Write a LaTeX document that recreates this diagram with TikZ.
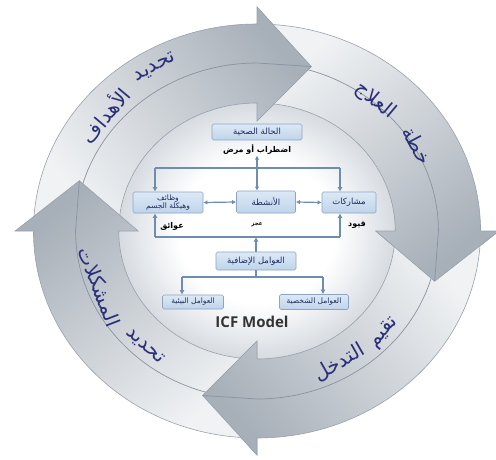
\documentclass[tikz,border=0pt]{standalone}
\usepackage{fontspec}
\usetikzlibrary{arrows.meta}
\TeXXeTstate=1
\newfontfamily\arabicfont[Script=Arabic]{DejaVu Sans}
\newfontfamily\labelfont{Open Sans}

\definecolor{arrowlight}{HTML}{F0F2F4}
\definecolor{arrowdark}{HTML}{A7AFB8}
\definecolor{arrowedge}{HTML}{98A2AD}
\definecolor{ridgecol}{HTML}{8894A0}
\definecolor{ringtext}{HTML}{2A2F78}
\definecolor{boxfillA}{HTML}{DCE9F6}
\definecolor{boxfillB}{HTML}{BFD4EA}
\definecolor{boxedge}{HTML}{8CA5C2}
\definecolor{boxtext}{HTML}{1F2C5C}
\definecolor{connector}{HTML}{6E8DB0}
\definecolor{diskedge}{HTML}{D5DAE0}

\pgfdeclareradialshading{diskshade}{\pgfpoint{0bp}{0bp}}{%
  color(0bp)=(white); color(14bp)=(white); color(25bp)=(diskedge); color(50bp)=(diskedge)}

% Arabic text run, right to left
\newcommand{\ar}[1]{\arabicfont\beginR #1\endR}

% one curved arrow of the cycle: #1 = angle of the head base, #2 = shading angle
\newcommand{\ringarrow}[2]{%
  \path[draw=arrowedge, line width=0.6pt, top color=arrowdark, bottom color=arrowlight, shading angle=#2]
    ({#1+87}:207) arc[start angle={#1+87}, end angle={#1}, radius=207]
    -- ({#1}:224) -- ({#1-17}:172) -- ({#1}:110) -- ({#1}:128)
    arc[start angle={#1}, end angle={#1+87}, radius=128] -- cycle;
  \draw[ridgecol, line width=0.7pt]
    ({#1+87}:168) arc[start angle={#1+87}, end angle={#1}, radius=168] -- ({#1-17}:172);
}
% the head of an arrow, painted again above the next arrow's tail
\newcommand{\ringhead}[2]{%
  \begin{scope}
    \clip (0,0) -- ({#1}:240) arc[start angle={#1}, end angle={#1-22}, radius=240] -- cycle;
    \ringarrow{#1}{#2}
  \end{scope}
}
% point on the ring at angle #1 and radius #2
\newcommand{\rp}[2]{({257+1.08*(#2)*cos(#1)},{228+(#2)*sin(#1)})}

\begin{document}
\begin{tikzpicture}[x=1pt,y=1pt,
  box/.style={draw=boxedge, line width=0.7pt, rounded corners=1.5pt,
    top color=boxfillA, bottom color=boxfillB, text=boxtext,
    font=\arabicfont\fontsize{8.5}{9.5}\selectfont, inner sep=0pt, align=center},
  tag/.style={font=\arabicfont\bfseries\fontsize{8}{9}\selectfont, text=black, inner sep=0.5pt},
  conn/.style={draw=connector, line width=1.5pt},
  tip/.style={-{Latex[length=4.5pt,width=5pt]}},
  tips/.style={{Latex[length=4pt,width=4.5pt]}-{Latex[length=4pt,width=4.5pt]}},
  ringword/.style={font=\arabicfont\fontsize{20}{22}\selectfont, text=ringtext, inner sep=0pt}
]
\useasboundingbox (0,0) rectangle (496,459);
\fill[white] (0,0) rectangle (496,459);

% ring of four arrows
\begin{scope}[shift={(257,228)}, xscale=1.08]
  \fill[shading=diskshade] (0,0) circle[radius=130];
  \ringarrow{90}{-51.5}
  \ringarrow{0}{-141.5}
  \ringarrow{-90}{130.5}
  \ringarrow{180}{40}
  \ringhead{90}{-51.5}
  \ringhead{0}{-141.5}
  \ringhead{-90}{130.5}
\end{scope}

% labels on the arrows
\node[ringword, rotate=29] (g1) at \rp{120}{189} {\ar{تحديد}};
\node[ringword, rotate=50] (g2) at \rp{140.5}{183} {\ar{الأهداف}};
\node[ringword, rotate=-40] (p2) at \rp{50}{170} {\ar{العلاج}};
\node[ringword, rotate=-62] (p1) at \rp{30}{172} {\ar{خطة}};
\node[ringword, rotate=50] (e1) at \rp{-41}{156} {\ar{تقيم}};
\node[ringword, rotate=30] (e2) at \rp{-60}{152} {\ar{التدخل}};
\node[ringword, rotate=-42] (d1) at \rp{-132}{155} {\ar{تحديد}};
\node[ringword, rotate=-69] (d2) at \rp{-159}{156} {\ar{المشكلات}};

% ICF model
\node[box, minimum width=90, minimum height=16] (health) at (257,327) {\ar{الحالة الصحية}};
\node[tag] (disorder) at (257,309) {\ar{اضطراب أو مرض}};
\node[box, minimum width=70, minimum height=21, font=\arabicfont\fontsize{7.5}{8.5}\selectfont] (body) at (168,256.5) {\ar{وظائف}\\\ar{وهيكلة الجسم}};
\node[box, minimum width=59, minimum height=22] (act) at (266,257) {\ar{الأنشطة}};
\node[box, minimum width=54, minimum height=21] (part) at (349,256.5) {\ar{مشاركات}};
\node[tag] (imp) at (172,233) {\ar{عوائق}};
\node[tag, font=\arabicfont\bfseries\fontsize{5.5}{6}\selectfont] (lim) at (257,234) {\ar{عجز}};
\node[tag] (res) at (357,234) {\ar{قيود}};
\node[box, minimum width=80, minimum height=18] (ctx) at (256,198) {\ar{العوامل الإضافية}};
\node[box, minimum width=61, minimum height=14, font=\arabicfont\fontsize{7.5}{8.5}\selectfont] (env) at (193,157) {\ar{العوامل البيئية}};
\node[box, minimum width=69, minimum height=15, font=\arabicfont\fontsize{7.5}{8.5}\selectfont] (pers) at (314,157) {\ar{العوامل الشخصية}};
\node[font=\labelfont\bfseries\fontsize{15}{16}\selectfont, text=black!80] (icf) at (252,137) {ICF Model};

\coordinate (topL) at (155,291);
\coordinate (topR) at (340,291);
\coordinate (botL) at (155,222);
\coordinate (botR) at (340,222);
\coordinate (lowL) at (182,182);
\coordinate (lowR) at (323,182);

\draw[conn] (topL) -- (topR);
\draw[conn,tip] (topL) -- (topL |- body.north);
\draw[conn,tip] (topR) -- (topR |- part.north);
\draw[conn,tips] (disorder.south) -- (disorder.south |- act.north);
\draw[conn,tips,line width=1.2pt] (body.east) -- (act.west);
\draw[conn,tips,line width=1.2pt] (act.east) -- (part.west);
\draw[conn] (botL) -- (botR);
\draw[conn,tip] (botL) -- (botL |- body.south);
\draw[conn,tip] (botR) -- (botR |- part.south);
\draw[conn,tip] (ctx.north) -- (ctx.north |- botL);
\draw[conn] (ctx.south) -- (ctx.south |- lowL);
\draw[conn] (lowL) -- (lowR);
\draw[conn,tip] (lowL) -- (lowL |- env.north);
\draw[conn,tip] (lowR) -- (lowR |- pers.north);
\end{tikzpicture}
\end{document}
